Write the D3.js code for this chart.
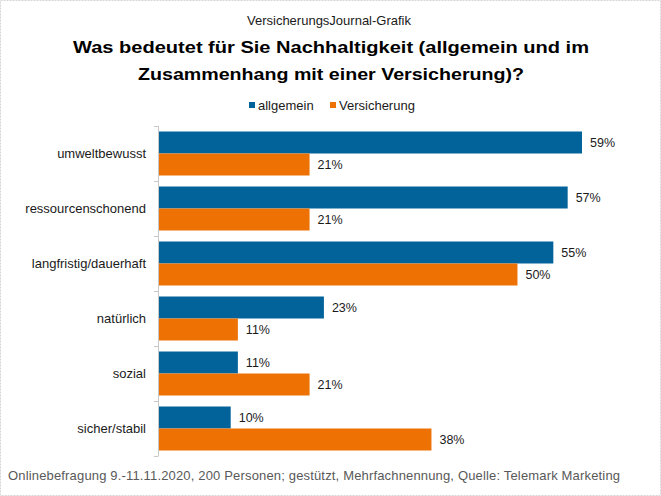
<!DOCTYPE html>
<html><head><meta charset="utf-8">
<script src="https://cdn.jsdelivr.net/npm/d3@7"></script>
<style>body{margin:0;background:#fff}svg{display:block;font-family:Arial,"Liberation Sans",sans-serif}</style>
</head><body>
<script>
const categories = ["umweltbewusst","ressourcenschonend","langfristig/dauerhaft","natürlich","sozial","sicher/stabil"];
const seriesNames = ["allgemein","Versicherung"];
const allgemein = [59,57,55,23,11,10];
const versicherung = [21,21,50,11,21,38];
const colors = ["#02629a","#ed7203"];
const subtitle = "VersicherungsJournal-Grafik";
const titleLines = ["Was bedeutet für Sie Nachhaltigkeit (allgemein und im","Zusammenhang mit einer Versicherung)?"];
const footer = "Onlinebefragung 9.-11.11.2020, 200 Personen; gestützt, Mehrfachnennung, Quelle: Telemark Marketing";

const W = 661, H = 496;
const svg = d3.select("body").append("svg").attr("width", W).attr("height", H);
svg.append("rect").attr("x",0.5).attr("y",0.5).attr("width",W-1).attr("height",H-1)
  .attr("fill","#fff").attr("stroke","#d4d4d4").attr("stroke-dasharray","2,1");

svg.append("text").attr("x",329).attr("y",24.5).attr("text-anchor","middle")
  .attr("font-size",13).attr("fill","#1a1a1a").text(subtitle);

const tl = [[73,516,53],[138,386,80]];
titleLines.forEach((t,i)=>{
  svg.append("text").attr("x",tl[i][0]).attr("y",tl[i][2])
    .attr("font-size",16).attr("font-weight","bold").attr("fill","#000")
    .attr("textLength",tl[i][1]).attr("lengthAdjust","spacingAndGlyphs").text(t);
});

// legend
const leg = [[249,258],[330,339]];
seriesNames.forEach((s,i)=>{
  svg.append("rect").attr("x",leg[i][0]).attr("y",102).attr("width",6).attr("height",6).attr("fill",colors[i]);
  svg.append("text").attr("x",leg[i][1]).attr("y",110).attr("font-size",13).attr("fill","#1a1a1a").text(s);
});

const data = categories.map((c,i)=>({cat:c, vals:[allgemein[i], versicherung[i]]}));
const x = d3.scaleLinear().domain([0,59]).range([159,582]);
const y = d3.scaleBand().domain(categories).range([126,456]).paddingInner(0.2).paddingOuter(0.1);
const ys = d3.scaleBand().domain([0,1]).range([0,y.bandwidth()]);

const g = svg.append("g");
data.forEach(d=>{
  d.vals.forEach((v,j)=>{
    g.append("rect").attr("x",x(0)).attr("y",y(d.cat)+ys(j))
      .attr("width",x(v)-x(0)).attr("height",ys.bandwidth()).attr("fill",colors[j]);
    g.append("text").attr("x",x(v)+8).attr("y",y(d.cat)+ys(j)+ys.bandwidth()/2)
      .attr("dy","0.36em").attr("font-size",12.5).attr("fill","#1a1a1a").text(v+"%");
  });
  g.append("text").attr("x",146).attr("y",y(d.cat)+y.bandwidth()/2).attr("dy","0.36em")
    .attr("text-anchor","end").attr("font-size",13).attr("fill","#1a1a1a").text(d.cat);
});

// axis line and ticks at band boundaries
const step = y.step();
const y0 = y.range()[0];
svg.append("line").attr("x1",158.5).attr("x2",158.5).attr("y1",y0).attr("y2",y0+step*categories.length)
  .attr("stroke","#c8c8c8");
d3.range(categories.length+1).forEach(i=>{
  const yy = Math.round(y0+step*i)+0.5;
  svg.append("line").attr("x1",154).attr("x2",158.5).attr("y1",yy).attr("y2",yy).attr("stroke","#c8c8c8");
});

svg.append("text").attr("x",8).attr("y",480).attr("font-size",13).attr("fill","#595959")
  .attr("textLength",612).attr("lengthAdjust","spacing").text(footer);
</script>
</body></html>
